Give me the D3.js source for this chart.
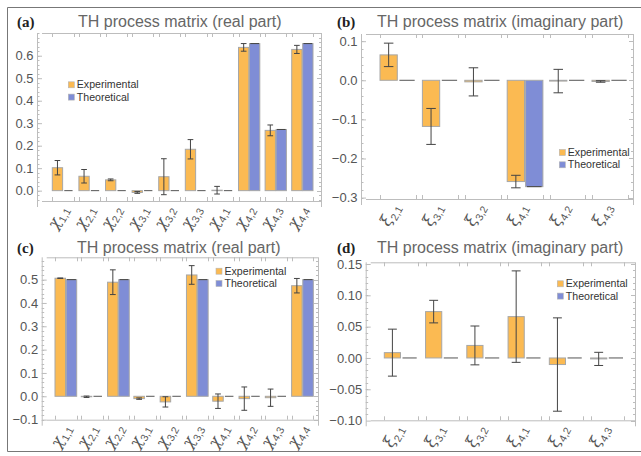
<!DOCTYPE html>
<html>
<head>
<meta charset="utf-8">
<script src="https://cdn.jsdelivr.net/npm/d3@7"></script>
<style>
  html, body { margin: 0; padding: 0; background: #fff; }
  svg { display: block; }
  text { font-family: "Liberation Sans", Arial, sans-serif; }
</style>
</head>
<body>
<svg id="fig" width="641" height="456"></svg>
<script>
// Matrix element labels (subscripts)
const catsReal = ["1,1", "2,1", "2,2", "3,1", "3,2", "3,3", "4,1", "4,2", "4,3", "4,4"];
const catsImag = ["2,1", "3,1", "3,2", "4,1", "4,2", "4,3"];

// (a) real part
const expA = [0.102, 0.064, 0.048, -0.008, 0.062, 0.184, 0.002, 0.637, 0.268, 0.628];
const errA = [0.032, 0.030, 0.004, 0.004, 0.080, 0.043, 0.017, 0.017, 0.024, 0.018];
const thA  = [0, 0, 0, 0, 0, 0, 0, 0.654, 0.272, 0.654];

// (b) imaginary part
const expB = [0.065, -0.118, -0.004, -0.259, -0.002, -0.003];
const errB = [0.030, 0.046, 0.036, 0.016, 0.030, 0.002];
const thB  = [0, 0, 0, -0.272, 0, 0];

// (c) real part
const expC = [0.506, -0.002, 0.489, -0.010, -0.024, 0.520, -0.021, -0.010, -0.006, 0.474];
const errC = [0.001, 0.003, 0.053, 0.003, 0.022, 0.040, 0.031, 0.050, 0.037, 0.031];
const thC  = [0.5, 0, 0.5, 0, 0, 0.5, 0, 0, 0, 0.5];

// (d) imaginary part
const expD = [0.0085, 0.074, 0.020, 0.066, -0.0105, -0.0015];
const errD = [0.0375, 0.018, 0.031, 0.073, 0.0745, 0.0105];
const thD  = [0, 0, 0, 0, 0, 0];

// Tick values
const ticksA = [0, 0.1, 0.2, 0.3, 0.4, 0.5, 0.6];
const ticksB = [-0.3, -0.2, -0.1, 0, 0.1];
const ticksC = [-0.1, 0, 0.1, 0.2, 0.3, 0.4, 0.5];
const ticksD = [-0.10, -0.05, 0, 0.05, 0.10, 0.15];

const seriesNames = ["Experimental", "Theoretical"];
const colors = ["#FBBA52", "#7F8DD6"];

const svg = d3.select("#fig");

// outer border
svg.append("path")
  .attr("d", "M641,7.5H7.5V451.5H641")
  .attr("fill", "none").attr("stroke", "#777").attr("stroke-width", 1);

function panel(o) {
  const g = svg.append("g");
  const y = d3.scaleLinear().domain(o.domain).range([o.bottom, o.top]);
  const x = d3.scaleBand().domain(o.cats).range([o.barStart, o.barEnd])
    .paddingInner(o.padInner).paddingOuter(0);
  const xs = d3.scaleBand().domain([0, 1]).range([0, x.bandwidth()]).paddingInner(0.06);

  const frame = "#bdbdbd";
  // frame lines
  g.append("line").attr("x1", o.left + 0.5).attr("x2", o.left + 0.5)
    .attr("y1", o.top).attr("y2", o.bottom + 6).attr("stroke", frame);
  g.append("line").attr("x1", o.right + 0.5).attr("x2", o.right + 0.5)
    .attr("y1", o.top).attr("y2", o.bottom + 6).attr("stroke", frame);
  g.append("line").attr("x1", o.left + 5).attr("x2", o.right)
    .attr("y1", o.top + 0.5).attr("y2", o.top + 0.5).attr("stroke", frame);
  g.append("line").attr("x1", o.left + 5).attr("x2", o.right)
    .attr("y1", o.bottom + 0.5).attr("y2", o.bottom + 0.5).attr("stroke", frame);

  // minor ticks on left/right frames
  const [t0, t1] = [o.ticks[0], o.ticks[o.ticks.length - 1]];
  const step = o.ticks[1] - o.ticks[0];
  const minor = [];
  for (let v = t0 - step; v <= t1 + step + 1e-9; v += step / 5) {
    const vv = +v.toFixed(4);
    if (vv >= o.domain[0] && vv <= o.domain[1]) minor.push(vv);
  }
  g.selectAll(".mnl").data(minor).join("line")
    .attr("x1", o.left).attr("x2", o.left + 2.5)
    .attr("y1", d => Math.round(y(d)) + 0.5).attr("y2", d => Math.round(y(d)) + 0.5)
    .attr("stroke", frame);
  g.selectAll(".mnr").data(minor).join("line")
    .attr("x1", o.right - 2).attr("x2", o.right + 0.5)
    .attr("y1", d => Math.round(y(d)) + 0.5).attr("y2", d => Math.round(y(d)) + 0.5)
    .attr("stroke", frame);
  g.selectAll(".mjr").data(o.ticks).join("line")
    .attr("x1", o.right - 4).attr("x2", o.right + 0.5)
    .attr("y1", d => Math.round(y(d)) + 0.5).attr("y2", d => Math.round(y(d)) + 0.5)
    .attr("stroke", frame);

  // left axis with labels
  const ax = g.append("g").attr("transform", `translate(${o.left + 0.5},0)`)
    .call(d3.axisLeft(y).tickValues(o.ticks).tickFormat(d3.format(o.fmt))
      .tickSize(-4.5).tickPadding(4));
  ax.select(".domain").remove();
  ax.selectAll(".tick line").attr("stroke", frame);
  ax.selectAll(".tick text").attr("fill", "#555").style("font-size", "13px")
    .style("font-family", "'Liberation Sans', Arial, sans-serif");

  // group edge ticks top and bottom
  const edges = [];
  o.cats.forEach(c => { edges.push(x(c)); edges.push(x(c) + x.bandwidth()); });
  g.selectAll(".eb").data(edges).join("line")
    .attr("x1", d => Math.round(d) + 0.5).attr("x2", d => Math.round(d) + 0.5)
    .attr("y1", o.bottom - 4).attr("y2", o.bottom).attr("stroke", frame);
  g.selectAll(".et").data(edges).join("line")
    .attr("x1", d => Math.round(d) + 0.5).attr("x2", d => Math.round(d) + 0.5)
    .attr("y1", o.top).attr("y2", o.top + 4).attr("stroke", frame);

  // bars
  const series = [o.exp, o.th];
  const errs = [o.err, o.th.map(() => 0)];
  series.forEach((vals, s) => {
    const bw = xs.bandwidth();
    o.cats.forEach((c, i) => {
      const v = vals[i];
      const bx = x(c) + xs(s);
      if (Math.abs(v) > 1e-9) {
        g.append("rect")
          .attr("x", bx).attr("width", bw)
          .attr("y", Math.min(y(v), y(0))).attr("height", Math.abs(y(v) - y(0)))
          .attr("fill", colors[s]).attr("stroke", "#a7a7a7").attr("stroke-width", 1);
      } else {
        g.append("line").attr("x1", bx + 1).attr("x2", bx + bw - 1)
          .attr("y1", y(0)).attr("y2", y(0))
          .attr("stroke", "#555").attr("stroke-width", 1);
      }
      // error bar
      const e = errs[s][i];
      const cx = bx + bw / 2;
      const cap = s === 0 ? bw * 0.55 : bw * 0.85;
      if (e > 0) {
        g.append("line").attr("x1", cx).attr("x2", cx)
          .attr("y1", y(v + e)).attr("y2", y(v - e))
          .attr("stroke", "#444").attr("stroke-width", 1);
        [v + e, v - e].forEach(w => g.append("line")
          .attr("x1", cx - cap / 2).attr("x2", cx + cap / 2)
          .attr("y1", y(w)).attr("y2", y(w))
          .attr("stroke", "#444").attr("stroke-width", 1));
      } else if (Math.abs(v) > 1e-9) {
        g.append("line").attr("x1", cx - cap / 2).attr("x2", cx + cap / 2)
          .attr("y1", y(v)).attr("y2", y(v))
          .attr("stroke", "#444").attr("stroke-width", 1);
      }
    });
  });

  // category labels, rotated
  o.cats.forEach(c => {
    const cx = x(c) + x.bandwidth() / 2 + o.labelDx;
    const t = g.append("text")
      .attr("transform", `translate(${cx},${o.bottom + 5}) rotate(-62)`)
      .attr("text-anchor", "end").attr("dy", "0.35em")
      .attr("fill", "#555");
    t.append("tspan").text(o.symbol).style("font-size", "16px")
      .style("font-style", "italic").style("font-family", "'DejaVu Serif', serif");
    t.append("tspan").text(c).attr("dy", 4).style("font-size", "10.5px");
  });

  // titles
  svg.append("text").attr("x", o.tagX).attr("y", o.titleY)
    .text(o.tag).attr("fill", "#222")
    .style("font-family", "'Liberation Serif', 'Times New Roman', serif")
    .style("font-weight", "bold").style("font-size", "15px");
  svg.append("text").attr("x", o.titleX).attr("y", o.titleY)
    .text(o.title).attr("fill", "#666").style("font-size", "16px");

  // legend
  const lg = g.append("g").attr("transform", `translate(${o.legX},${o.legY})`);
  seriesNames.forEach((n, i) => {
    lg.append("rect").attr("x", 0).attr("y", i * 12.3 - 6.5).attr("width", 6).attr("height", 6)
      .attr("fill", colors[i]).attr("stroke", "#b5b5b5").attr("stroke-width", 0.6);
    lg.append("text").attr("x", 8.5).attr("y", i * 12.3).text(n)
      .attr("fill", "#333").style("font-size", "10.6px");
  });
}

panel({
  tag: "(a)", title: "TH process matrix (real part)", tagX: 17, titleX: 78, titleY: 26.5,
  left: 37, right: 321, top: 33, bottom: 201, domain: [-0.046, 0.701],
  barStart: 52.3, barEnd: 313, padInner: 0.2, cats: catsReal, symbol: "χ",
  exp: expA, err: errA, th: thA, ticks: ticksA, fmt: ".1f",
  legX: 68.3, legY: 88.3, labelDx: 0
});
panel({
  tag: "(b)", title: "TH process matrix (imaginary part)", tagX: 337, titleX: 377, titleY: 26.5,
  left: 361, right: 633, top: 34, bottom: 199, domain: [-0.3036, 0.1184],
  barStart: 380, barEnd: 627.7, padInner: 0.158, cats: catsImag, symbol: "ξ",
  exp: expB, err: errB, th: thB, ticks: ticksB, fmt: ".1f",
  legX: 559.3, legY: 156, labelDx: -3
});
panel({
  tag: "(c)", title: "TH process matrix (real part)", tagX: 17, titleX: 77, titleY: 253,
  left: 41.7, right: 318, top: 257.3, bottom: 419.7, domain: [-0.1003, 0.5957],
  barStart: 55, barEnd: 313.3, padInner: 0.175, cats: catsReal, symbol: "χ",
  exp: expC, err: errC, th: thC, ticks: ticksC, fmt: ".1f",
  legX: 216, legY: 274.7, labelDx: 0
});
panel({
  tag: "(d)", title: "TH process matrix (imaginary part)", tagX: 337, titleX: 377, titleY: 253,
  left: 365.7, right: 635, top: 262.3, bottom: 420.3, domain: [-0.0995, 0.1527],
  barStart: 384.3, barEnd: 624, padInner: 0.19, cats: catsImag, symbol: "ξ",
  exp: expD, err: errD, th: thD, ticks: ticksD, fmt: ".2f",
  legX: 557.3, legY: 287.3, labelDx: -3
});
</script>
</body>
</html>
